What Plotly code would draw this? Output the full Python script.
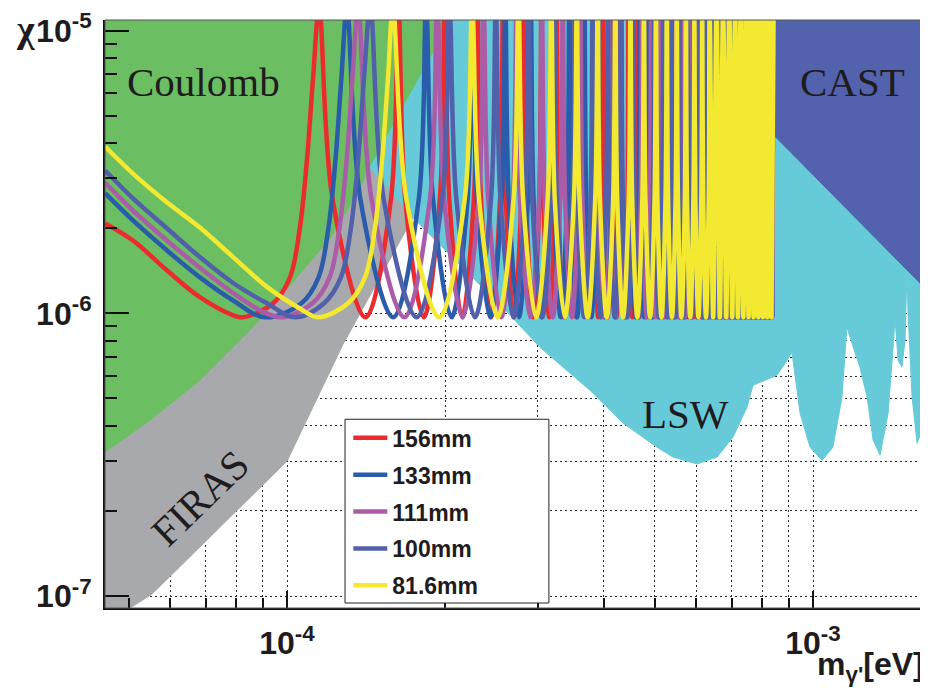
import math

import plotly.graph_objects as go

# masses below are in units of 1e-4 eV, chi is dimensionless
M_UNIT = 1e-4

x_range = [0.4508, 16.47]
y_range = [9.07e-8, 1.09e-5]

major_x = [1.0, 10.0]
major_x_text = ["10<sup>-4</sup>", "10<sup>-3</sup>"]
minor_x = [0.5, 0.6, 0.7, 0.8, 0.9, 2, 3, 4, 5, 6, 7, 8, 9]
major_y = [1e-7, 1e-6, 1e-5]
major_y_text = ["10<sup>-7</sup>", "10<sup>-6</sup>", "10<sup>-5</sup>"]
minor_y = [2e-7, 3e-7, 4e-7, 5e-7, 6e-7, 7e-7, 8e-7, 9e-7,
           2e-6, 3e-6, 4e-6, 5e-6, 6e-6, 7e-6, 8e-6, 9e-6]

# --- excluded regions (boundary polygons) ---
coulomb_m = [0.40, 0.40, 0.451, 0.549, 0.683, 0.850, 1.013, 1.207, 1.317, 1.438, 2.46]
coulomb_chi = [2e-5, 2.9e-7, 3.23e-7, 4.19e-7, 5.80e-7, 8.71e-7, 1.256e-6, 1.84e-6,
               2.41e-6, 3.28e-6, 2e-5]

firas_m = [0.40, 0.49, 0.554, 1.000, 1.278, 1.736, 1.438, 0.40]
firas_chi = [8.0e-8, 8.8e-8, 1.016e-7, 3.0e-7, 7.77e-7, 2.18e-6, 3.28e-6, 3.28e-6]

lsw_m = [2.46, 1.438, 1.736, 2.678, 3.027, 3.767, 4.353, 5.051, 5.419, 6.018,
         6.570, 7.046, 7.489, 7.69, 7.93, 8.54, 8.93, 9.12, 9.45, 9.87,
         10.40, 10.91, 11.35, 11.60, 11.86, 12.28, 12.67, 13.01, 13.41, 13.89,
         14.20, 14.32, 14.51, 14.76, 14.96, 15.09, 15.16, 15.43, 15.77, 16.12,
         16.33, 16.47, 18.0, 18.0]
lsw_chi = [2e-5, 3.28e-6, 2.18e-6, 9.68e-7, 7.58e-7, 5.34e-7, 4.09e-7, 3.36e-7, 3.10e-7, 2.93e-7,
           3.10e-7, 3.65e-7, 4.65e-7, 5.57e-7, 5.70e-7, 6.04e-7, 6.82e-7, 7.28e-7, 4.43e-7, 3.36e-7,
           3.02e-7, 3.36e-7, 5.05e-7, 8.92e-7, 7.83e-7, 6.45e-7, 5.05e-7, 3.56e-7, 3.15e-7, 4.43e-7,
           7.58e-7, 9.68e-7, 6.82e-7, 6.45e-7, 8.03e-7, 1.42e-6, 1.0e-6, 5.05e-7, 3.47e-7, 3.86e-7,
           5.80e-7, 6.29e-7, 6.29e-7, 2e-5]

cast_m = [8.43, 8.43, 18.2, 18.2]
cast_chi = [2e-5, 4.26e-6, 1.0e-6, 2e-5]

# --- sensitivity curves: low-mass branch, then resonance peaks / minima / flanks ---
TROUGH_CHI = 9.68e-7
FLANK_CHI = 2.53e-6
PEAK_CHI = 1.2e-5

red_head_m = [0.451, 0.5095, 0.591, 0.683, 0.790, 0.825, 0.941, 1.013, 1.058, 1.091, 1.121]
red_head_chi = [2.08e-6, 1.81e-6, 1.42e-6, 1.14e-6, 9.84e-7, 9.68e-7, 1.085e-6, 1.34e-6,
                2.01e-6, 3.47e-6, 6.82e-6]
red_peaks = [1.151, 1.628, 1.994, 2.302, 2.574, 2.819, 3.045, 3.256, 3.453, 3.640,
             3.817, 3.987, 4.150, 4.307, 4.458, 4.604, 4.746, 4.883, 5.017, 5.147,
             5.275, 5.399, 5.520, 5.639, 5.755, 5.869, 5.981, 6.091, 6.198, 6.304,
             6.409, 6.511, 6.612, 6.712, 6.809, 6.906, 7.001, 7.095, 7.188, 7.280,
             7.370, 7.459, 7.548, 7.635, 7.721, 7.806, 7.891, 7.974, 8.057, 8.139,
             8.220, 8.300, 8.379]
red_troughs = [1.410, 1.820, 2.153, 2.442, 2.699, 2.934, 3.152, 3.356, 3.548, 3.730,
               3.903, 4.069, 4.229, 4.383, 4.532, 4.675, 4.815, 4.951, 5.083, 5.211,
               5.337, 5.460, 5.580, 5.697, 5.812, 5.925, 6.036, 6.145, 6.252, 6.357,
               6.460, 6.562, 6.662, 6.761, 6.858, 6.954, 7.048, 7.142, 7.234, 7.325,
               7.415, 7.504, 7.591, 7.678, 7.764, 7.849, 7.933, 8.016, 8.098, 8.179,
               8.260, 8.340]
red_flanks = [1.221, 1.576, 1.678, 1.952, 2.035, 2.266, 2.338, 2.541, 2.606, 2.790,
              2.849, 3.018, 3.072, 3.230, 3.281, 3.429, 3.477, 3.617, 3.663, 3.796,
              3.839, 3.966, 4.008, 4.130, 4.170, 4.287, 4.326, 4.439, 4.476, 4.586]

blue_head_m = [0.451, 0.5095, 0.591, 0.683, 0.790, 0.908, 1.0655, 1.148, 1.199, 1.236, 1.269]
blue_head_chi = [2.66e-6, 2.13e-6, 1.67e-6, 1.34e-6, 1.11e-6, 9.68e-7, 1.085e-6, 1.34e-6,
                 2.01e-6, 3.47e-6, 6.82e-6]
blue_peaks = [1.300, 1.838, 2.252, 2.600, 2.907, 3.184, 3.440, 3.677, 3.900, 4.111,
              4.312, 4.503, 4.687, 4.864, 5.035, 5.200, 5.360, 5.515, 5.667, 5.814,
              5.957, 6.098, 6.235, 6.369, 6.500, 6.629, 6.755, 6.879, 7.001, 7.120,
              7.238, 7.354, 7.468, 7.580, 7.691, 7.800, 7.908, 8.014, 8.119, 8.222,
              8.324]
blue_troughs = [1.592, 2.055, 2.432, 2.758, 3.049, 3.314, 3.560, 3.790, 4.007, 4.213,
                4.409, 4.596, 4.776, 4.950, 5.118, 5.281, 5.438, 5.592, 5.741, 5.886,
                6.028, 6.166, 6.302, 6.435, 6.565, 6.692, 6.817, 6.940, 7.061, 7.180,
                7.296, 7.411, 7.524, 7.636, 7.746, 7.854, 7.961, 8.066, 8.170, 8.273,
                8.375]
blue_flanks = [1.379, 1.780, 1.895, 2.204, 2.298, 2.559, 2.640, 2.870, 2.943, 3.151,
               3.217, 3.409, 3.470, 3.648, 3.706, 3.873, 3.927, 4.085, 4.137, 4.287,
               4.336, 4.480, 4.527, 4.665, 4.710, 4.842, 4.886, 5.014, 5.056, 5.180]

purple_head_m = [0.451, 0.5095, 0.591, 0.683, 0.790, 0.889, 0.978, 1.118, 1.205, 1.258,
                 1.298, 1.332]
purple_head_chi = [2.90e-6, 2.31e-6, 1.81e-6, 1.45e-6, 1.18e-6, 1.025e-6, 9.68e-7, 1.085e-6,
                   1.34e-6, 2.01e-6, 3.47e-6, 6.82e-6]
purple_peaks = [1.365, 1.930, 2.364, 2.730, 3.052, 3.344, 3.612, 3.861, 4.095, 4.317,
                4.527, 4.729, 4.922, 5.107, 5.287, 5.460, 5.628, 5.791, 5.950, 6.104,
                6.255, 6.402, 6.546, 6.687, 6.825, 6.960, 7.093, 7.223, 7.351, 7.476,
                7.600, 7.722, 7.841, 7.959, 8.076, 8.190, 8.303, 8.414]
purple_troughs = [1.672, 2.158, 2.554, 2.896, 3.201, 3.480, 3.738, 3.980, 4.207, 4.423,
                  4.629, 4.826, 5.015, 5.198, 5.374, 5.545, 5.710, 5.871, 6.028, 6.180,
                  6.329, 6.475, 6.617, 6.756, 6.893, 7.027, 7.158, 7.287, 7.414, 7.539,
                  7.661, 7.782, 7.900, 8.018, 8.133, 8.247, 8.359]
purple_flanks = [1.448, 1.869, 1.990, 2.315, 2.413, 2.687, 2.772, 3.014, 3.090, 3.308,
                 3.378, 3.579, 3.644, 3.831, 3.891, 4.067, 4.123, 4.290, 4.343, 4.501,
                 4.553, 4.704, 4.753, 4.898, 4.945, 5.085, 5.130, 5.265, 5.309, 5.439]

slate_head_m = [0.451, 0.5095, 0.591, 0.683, 0.790, 0.916, 1.036, 1.176, 1.266, 1.323,
                1.365, 1.401]
slate_head_chi = [3.20e-6, 2.55e-6, 2.00e-6, 1.58e-6, 1.28e-6, 1.085e-6, 9.68e-7, 1.085e-6,
                  1.34e-6, 2.01e-6, 3.47e-6, 6.82e-6]
slate_peaks = [1.440, 2.036, 2.494, 2.880, 3.220, 3.527, 3.810, 4.073, 4.320, 4.554,
               4.776, 4.988, 5.192, 5.388, 5.577, 5.760, 5.937, 6.109, 6.277, 6.440,
               6.599, 6.754, 6.906, 7.055, 7.200, 7.343, 7.483, 7.620, 7.755, 7.887,
               8.018, 8.146, 8.272, 8.397]
slate_troughs = [1.764, 2.277, 2.694, 3.055, 3.377, 3.671, 3.944, 4.198, 4.438, 4.666,
                 4.883, 5.091, 5.291, 5.483, 5.669, 5.849, 6.024, 6.194, 6.359, 6.520,
                 6.677, 6.831, 6.981, 7.128, 7.272, 7.413, 7.551, 7.687, 7.821, 7.953,
                 8.082, 8.209, 8.335]
slate_flanks = [1.527, 1.972, 2.099, 2.442, 2.546, 2.835, 2.925, 3.179, 3.260, 3.490,
                3.564, 3.776, 3.844, 4.041, 4.105, 4.290, 4.350, 4.525, 4.582, 4.749,
                4.803, 4.962, 5.014, 5.167, 5.217, 5.364, 5.412, 5.554, 5.600, 5.737]

yellow_head_m = [0.451, 0.5095, 0.591, 0.683, 0.790, 0.916, 1.058, 1.145, 1.306, 1.407,
                 1.470, 1.516, 1.556]
yellow_head_chi = [3.89e-6, 3.12e-6, 2.47e-6, 2.01e-6, 1.58e-6, 1.24e-6, 1.04e-6, 9.68e-7,
                   1.085e-6, 1.34e-6, 2.01e-6, 3.47e-6, 6.82e-6]
yellow_peaks = [1.590, 2.249, 2.754, 3.180, 3.555, 3.895, 4.207, 4.497, 4.770, 5.028,
                5.273, 5.508, 5.733, 5.949, 6.158, 6.360, 6.556, 6.746, 6.931, 7.111,
                7.286, 7.458, 7.625, 7.789, 7.950, 8.107, 8.262, 8.414]
yellow_troughs = [1.947, 2.514, 2.975, 3.373, 3.729, 4.054, 4.354, 4.636, 4.901, 5.152,
                  5.392, 5.621, 5.842, 6.055, 6.260, 6.459, 6.651, 6.839, 7.021, 7.199,
                  7.372, 7.542, 7.708, 7.870, 8.029, 8.185, 8.338]
yellow_flanks = [1.687, 2.177, 2.318, 2.696, 2.811, 3.130, 3.229, 3.511, 3.599, 3.854,
                 3.935, 4.169, 4.244, 4.462, 4.532, 4.737, 4.803, 4.997, 5.059, 5.243,
                 5.303, 5.479, 5.537, 5.705, 5.760, 5.923, 5.976, 6.132, 6.184, 6.335]

curves = [
    ("156mm", "#ec2b2e", red_head_m, red_head_chi, red_peaks, red_troughs, red_flanks),
    ("133mm", "#2a5cab", blue_head_m, blue_head_chi, blue_peaks, blue_troughs, blue_flanks),
    ("111mm", "#aa5ca8", purple_head_m, purple_head_chi, purple_peaks, purple_troughs, purple_flanks),
    ("100mm", "#5060aa", slate_head_m, slate_head_chi, slate_peaks, slate_troughs, slate_flanks),
    ("81.6mm", "#f2e930", yellow_head_m, yellow_head_chi, yellow_peaks, yellow_troughs, yellow_flanks),
]

regions = [
    (firas_m, firas_chi, "#a8a9ac"),
    (coulomb_m, coulomb_chi, "#6cbe63"),
    (lsw_m, lsw_chi, "#66cad8"),
    (cast_m, cast_chi, "#5262ad"),
]

TEXT = "#1f1c1d"
SANS = "Liberation Sans"
SERIF = "Liberation Serif"

fig = go.Figure()

for m, chi, color in regions:
    fig.add_trace(
        go.Scatter(
            x=[v * M_UNIT for v in m],
            y=chi,
            mode="lines",
            fill="toself",
            fillcolor=color,
            line=dict(color=color, width=1),
            hoverinfo="skip",
            showlegend=False,
        )
    )

for name, color, head_m, head_chi, peaks, troughs, flanks in curves:
    pts = list(zip(head_m, head_chi))
    pts += [(m, PEAK_CHI) for m in peaks]
    pts += [(m, TROUGH_CHI) for m in troughs]
    pts += [(m, FLANK_CHI) for m in flanks]
    pts.sort()
    fig.add_trace(
        go.Scatter(
            x=[p[0] * M_UNIT for p in pts],
            y=[p[1] for p in pts],
            mode="lines",
            name=name,
            legendgroup=name,
            line=dict(color=color, width=4.5, shape="spline", smoothing=1.0),
            hoverinfo="skip",
        )
    )

grid = dict(showgrid=True, gridcolor="#2a2a2a", griddash="2px,3px", gridwidth=1)

fig.update_xaxes(
    type="log",
    range=[math.log10(x_range[0] * M_UNIT), math.log10(x_range[1] * M_UNIT)],
    tickmode="array",
    tickvals=[v * M_UNIT for v in major_x],
    ticktext=major_x_text,
    ticks="inside",
    ticklen=17,
    tickwidth=2,
    tickcolor="#111",
    showline=True,
    linewidth=2,
    linecolor="#111",
    zeroline=False,
    tickfont=dict(family=SANS, size=32, color=TEXT, weight="bold"),
    ticklabelstandoff=6,
    minor=dict(tickmode="array", tickvals=[v * M_UNIT for v in minor_x], ticks="inside",
               ticklen=10, tickwidth=1.5, tickcolor="#111", **grid),
    **grid,
)
fig.update_yaxes(
    type="log",
    range=[math.log10(y_range[0]), math.log10(y_range[1])],
    tickmode="array",
    tickvals=major_y,
    ticktext=major_y_text,
    ticks="inside",
    ticklen=24,
    tickwidth=2,
    tickcolor="#111",
    showline=True,
    linewidth=2,
    linecolor="#111",
    zeroline=False,
    tickfont=dict(family=SANS, size=32, color=TEXT, weight="bold"),
    ticklabelstandoff=5,
    minor=dict(tickmode="array", tickvals=minor_y, ticks="inside",
               ticklen=12, tickwidth=1.5, tickcolor="#111", **grid),
    **grid,
)

label_font = dict(family=SERIF, size=41, color=TEXT)
annotations = [
    dict(text="Coulomb", x=0.1204, y=0.895, font=label_font),
    dict(text="CAST", x=0.9088, y=0.895, font=label_font),
    dict(text="LSW", x=0.7068, y=0.330, font=label_font),
    dict(text="FIRAS", x=0.1156, y=0.187, font=label_font, textangle=-44),
    dict(text="χ", x=-0.097, y=0.985, font=dict(family=SERIF, size=38, color=TEXT, weight="bold")),
    dict(text="m<sub>γ'</sub>[eV]", x=0.9988, y=-0.100, xanchor="right",
         font=dict(family=SANS, size=32, color=TEXT, weight="bold")),
]
for a in annotations:
    a.setdefault("xanchor", "center")
    fig.add_annotation(xref="paper", yref="paper", yanchor="middle", showarrow=False, **a)

# plot frame and legend box
fig.add_shape(type="rect", xref="paper", yref="paper", x0=0, x1=1, y0=0, y1=1,
              line=dict(color="#555", width=1), fillcolor="rgba(0,0,0,0)", layer="above")
fig.add_shape(type="rect", xref="paper", yref="paper", x0=0.292, x1=0.540, y0=0.0085, y1=0.321,
              line=dict(color="#222", width=1), fillcolor="white", layer="above")

# the page body adds an 8px margin, so the figure is sized to land on the window
fig.update_layout(
    template="none",
    width=920,
    height=680,
    margin=dict(l=97, r=1, t=11.5, b=80),
    paper_bgcolor="white",
    plot_bgcolor="white",
    showlegend=True,
    legend=dict(
        x=0.296,
        y=0.326,
        xanchor="left",
        yanchor="top",
        bgcolor="rgba(0,0,0,0)",
        borderwidth=0,
        font=dict(family=SANS, size=23, color=TEXT, weight="bold"),
        tracegroupgap=4,
        itemwidth=34,
    ),
)

fig.write_html("out.html")
